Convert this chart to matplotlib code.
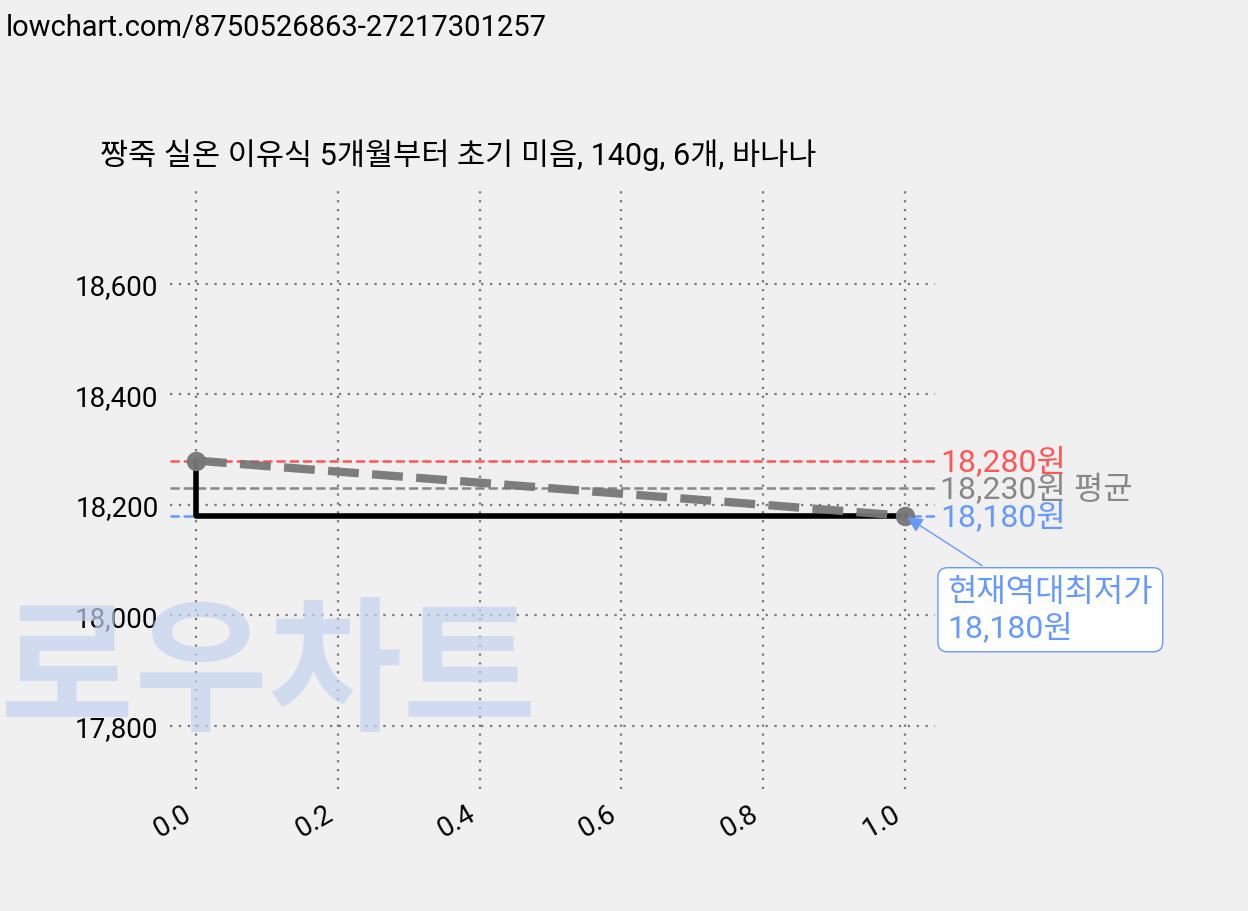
import matplotlib
matplotlib.use("Agg")
import matplotlib.pyplot as plt

plt.rcParams['font.family'] = ['Roboto', 'Noto Sans CJK KR', 'DejaVu Sans']

xs = [0.0, 1.0]
prices = [18280, 18180]
max_p, avg_p, min_p = 18280, 18230, 18180
title = "짱죽 실온 이유식 5개월부터 초기 미음, 140g, 6개, 바나나"

fig = plt.figure(figsize=(12.48, 9.12), dpi=100, facecolor='#f0f0f0')
ax = fig.add_axes([0.136, 0.134, 0.613, 0.658], facecolor='#f0f0f0')
for s in ax.spines.values():
    s.set_visible(False)
ax.set_xlim(-0.037, 1.042)
ax.set_ylim(17686, 18772)
ax.grid(True, linestyle=(0, (1, 3)), color='#777777', linewidth=1.6)
ax.tick_params(length=0, labelsize=20, pad=8)
ax.set_yticks([17800, 18000, 18200, 18400, 18600])
ax.set_yticklabels([f"{v:,}" for v in [17800, 18000, 18200, 18400, 18600]])
ax.set_xticks([0, 0.2, 0.4, 0.6, 0.8, 1.0])
ax.set_xticklabels(["0.0", "0.2", "0.4", "0.6", "0.8", "1.0"], rotation=30, ha='right')

fig.text(0.005, 0.985, "lowchart.com/8750526863-27217301257", fontsize=21, va='top')
fig.text(0.08, 0.83, title, fontsize=22, va='center')
fig.text(0.0, 0.255, "로우차트", fontsize=105, fontweight='bold', color='#c5d3f0',
         alpha=0.7, va='center', zorder=0)

ax.axhline(max_p, color='#ff5555', linestyle='--', linewidth=1.8)
ax.axhline(avg_p, color='#888888', linestyle='--', linewidth=1.8)
ax.axhline(min_p, color='#6699ff', linestyle='--', linewidth=1.8)
ax.plot(xs, prices, drawstyle='steps-pre', color='black', linewidth=4)
ax.plot(xs, prices, color='#777777', linestyle='--', linewidth=6, marker='o', markersize=13, alpha=0.95)

ax.text(1.05, max_p, f"{max_p:,}원", color='#ff5555', fontsize=23, va='center')
ax.text(1.05, avg_p, f"{avg_p:,}원 평균", color='#888888', fontsize=23, va='center')
ax.text(1.05, min_p, f"{min_p:,}원", color='#6699ff', fontsize=23, va='center')
ax.annotate(f"현재역대최저가\n{min_p:,}원", xy=(1.0, min_p), xytext=(1.06, 18010),
            color='#6699ff', fontsize=23, va='center', annotation_clip=False,
            bbox=dict(boxstyle='round,pad=0.3', fc='white', ec='#6699ff'),
            arrowprops=dict(arrowstyle='-|>', color='#6699ff'))
fig.savefig("out.png", dpi=100, facecolor=fig.get_facecolor())
